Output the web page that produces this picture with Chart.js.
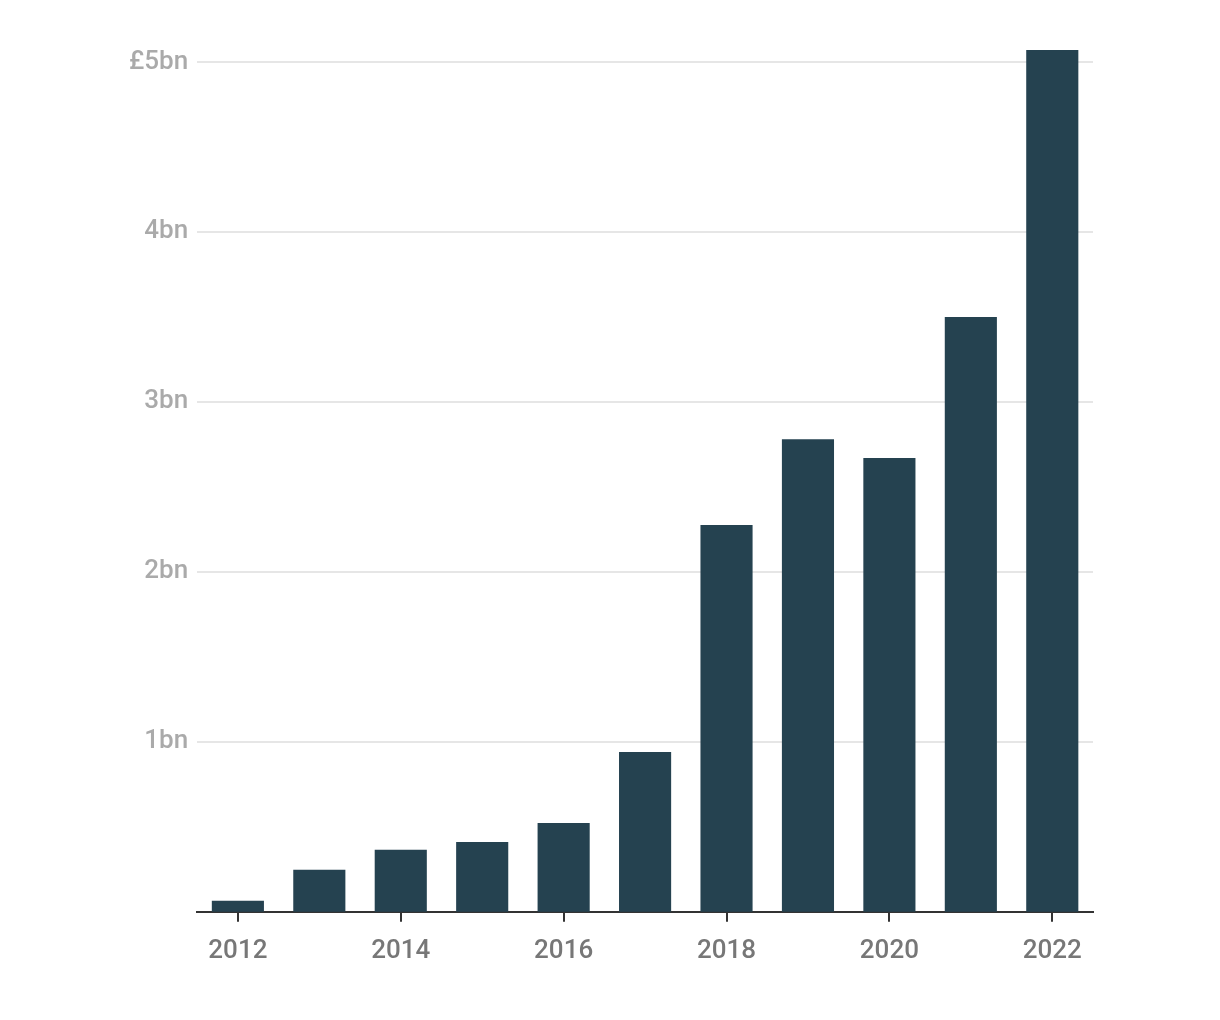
<!DOCTYPE html>
<html>
<head>
<meta charset="utf-8">
<script src="https://cdn.jsdelivr.net/npm/chart.js@4.4.0/dist/chart.umd.min.js"></script>
<style>
  html, body { margin: 0; padding: 0; background: #fff; }
  #wrap { width: 1220px; height: 1020px; }
</style>
</head>
<body>
<div id="wrap"><canvas id="myChart" width="1220" height="1020"></canvas></div>
<script>
// yearly totals, £bn
const years = ['2012', '2013', '2014', '2015', '2016', '2017', '2018', '2019', '2020', '2021', '2022'];
const values = [0.065, 0.247, 0.365, 0.41, 0.523, 0.94, 2.276, 2.78, 2.67, 3.5, 5.07];
const yTickLabels = { 1: '1bn', 2: '2bn', 3: '3bn', 4: '4bn', 5: '£5bn' };

const barColour = '#254250';

new Chart(document.getElementById('myChart').getContext('2d'), {
  type: 'bar',
  data: {
    labels: years,
    datasets: [{
      label: 'Total',
      data: values,
      backgroundColor: barColour,
      borderWidth: 0,
      barPercentage: 0.64,
      categoryPercentage: 1.0,
      clip: false
    }]
  },
  options: {
    responsive: false,
    animation: false,
    layout: {
      padding: { left: 120, right: 127, top: 62, bottom: 39 }
    },
    plugins: {
      legend: { display: false },
      tooltip: { enabled: false }
    },
    scales: {
      x: {
        grid: {
          display: true,
          offset: false,
          drawOnChartArea: false,
          drawTicks: true,
          tickLength: 10,
          color: '#333333',
          lineWidth: 2
        },
        border: { display: true, color: '#333333', width: 2 },
        ticks: {
          autoSkip: false,
          maxRotation: 0,
          padding: 14,
          color: '#777777',
          font: { family: 'Roboto', size: 26, weight: '500' },
          callback: function (value, index) {
            return index % 2 === 0 ? years[index] : null;
          }
        }
      },
      y: {
        min: 0,
        max: 5,
        grid: {
          color: '#e6e6e6',
          lineWidth: 2,
          drawTicks: false
        },
        border: { display: false },
        ticks: {
          stepSize: 1,
          padding: 9,
          color: '#aaaaaa',
          font: { family: 'Roboto', size: 26, weight: '500' },
          callback: function (value) {
            return yTickLabels[value] !== undefined ? yTickLabels[value] : null;
          }
        }
      }
    }
  }
});
</script>
</body>
</html>
